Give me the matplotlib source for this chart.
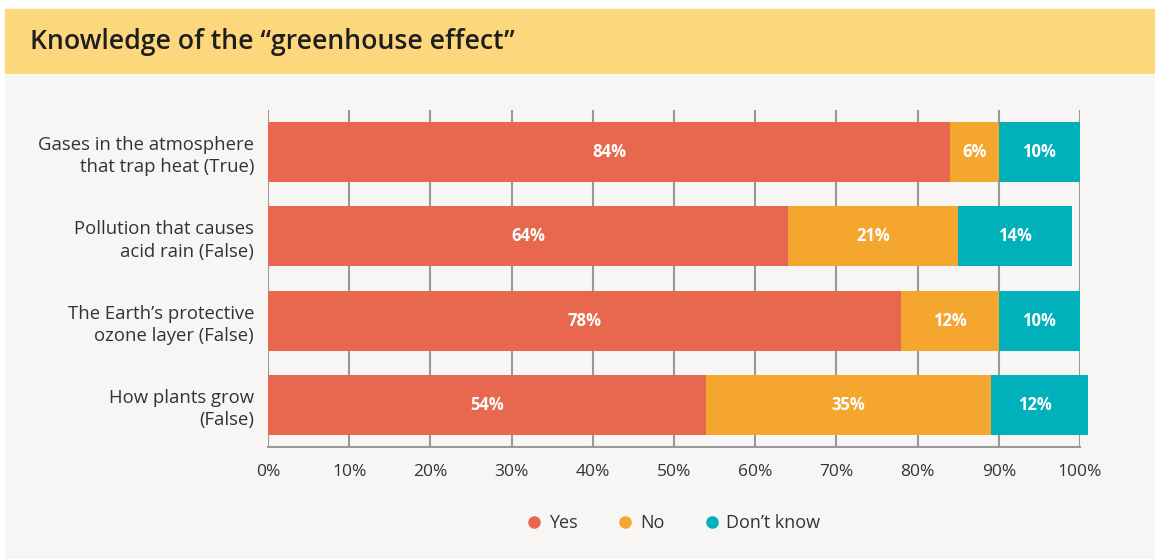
import matplotlib
matplotlib.use("Agg")
import matplotlib.pyplot as plt
from matplotlib.patches import Rectangle
from matplotlib.lines import Line2D

# Survey data (percent of respondents)
categories = [
    "Gases in the atmosphere\nthat trap heat (True)",
    "Pollution that causes\nacid rain (False)",
    "The Earth\u2019s protective\nozone layer (False)",
    "How plants grow\n(False)",
]
yes = [84, 64, 78, 54]
no = [6, 21, 12, 35]
dont_know = [10, 14, 10, 12]
series_names = ["Yes", "No", "Don\u2019t know"]
colors = ["#E8684F", "#F5A62F", "#00B0BA"]
ticks = list(range(0, 101, 10))

plt.rcParams["font.family"] = ["Open Sans", "DejaVu Sans"]

fig = plt.figure(figsize=(11.55, 5.59), dpi=100)
fig.patch.set_facecolor("white")

W, H = 1155, 559
# title band and panel background
fig.patches.append(Rectangle((5 / W, 1 - 73 / H), 1150 / W, 64 / H,
                             transform=fig.transFigure, color="#FDD77B", zorder=-2))
fig.patches.append(Rectangle((5 / W, 1 - 558 / H), 1150 / W, 483 / H,
                             transform=fig.transFigure, color="#F7F6F4", zorder=-2))
fig.text(30 / W, 1 - 42 / H, "Knowledge of the \u201cgreenhouse effect\u201d",
         fontsize=19.2, fontweight="semibold", color="#1E1E1E", va="center", ha="left")

ax = fig.add_axes([268 / W, 1 - 447 / H, 812 / W, 337 / H])
ax.set_facecolor("none")

y = list(range(len(categories)))
left = [0] * len(categories)
for vals, name, col in zip([yes, no, dont_know], series_names, colors):
    bars = ax.barh(y, vals, left=left, height=0.71, color=col, label=name,
                   zorder=2, clip_on=False)
    ax.bar_label(bars, labels=[f"{v}%" for v in vals], label_type="center",
                 color="white", fontsize=12, fontweight="bold")
    left = [a + b for a, b in zip(left, vals)]

ax.set_xlim(0, 100)
ax.set_ylim(3.5, -0.5)
ax.set_xticks(ticks)
ax.set_xticklabels([f"{t}%" for t in ticks])
ax.set_yticks(y)
ax.set_yticklabels(categories, linespacing=1.3)
ax.tick_params(axis="both", length=0, labelsize=12.5, colors="#333333")
ax.tick_params(axis="y", labelsize=13.3, pad=10)
ax.tick_params(axis="x", pad=12)
ax.xaxis.grid(True, color="#999999", linewidth=1.5, zorder=1)
ax.set_axisbelow(True)
for s in ["top", "right", "left"]:
    ax.spines[s].set_visible(False)
ax.spines["bottom"].set_color("#999999")
ax.spines["bottom"].set_linewidth(1.5)

handles = [Line2D([], [], marker="o", linestyle="none", markersize=8,
                  markerfacecolor=c, markeredgecolor=c) for c in colors]
fig.legend(handles, series_names, loc="center", bbox_to_anchor=(673 / W, 1 - 523 / H),
           ncol=3, frameon=False, fontsize=13, handlelength=1.0, handletextpad=0.3,
           columnspacing=2.15, labelcolor="#333333")

fig.savefig("out.png", dpi=100, facecolor=fig.get_facecolor())
